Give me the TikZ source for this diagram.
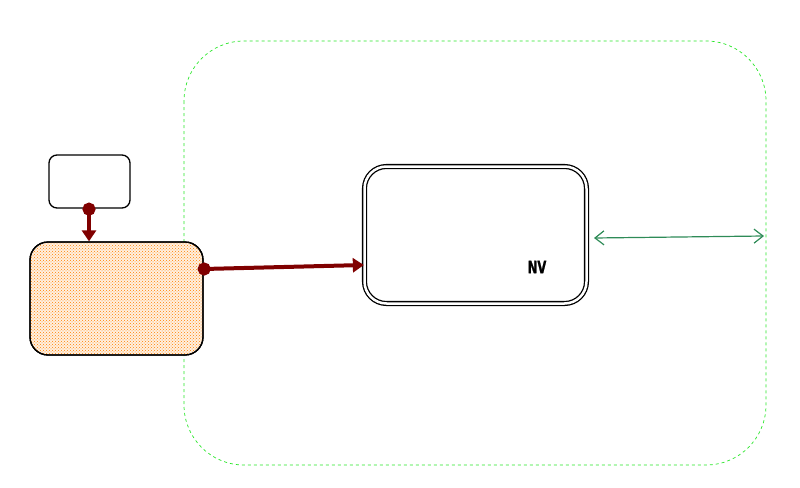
\documentclass[tikz,border=0pt]{standalone}
\usepackage{fontspec}
\setsansfont{DejaVu Sans}
\newfontfamily\nvfont{DejaVu Sans}[BoldFeatures={FakeBold=1.5}]
\usetikzlibrary{patterns,arrows.meta}
\definecolor{dred}{RGB}{128,0,0}
\definecolor{sgreen}{RGB}{46,139,87}
\definecolor{lgreen}{RGB}{40,230,40}
\tikzset{
  box/.style={draw=black,line width=1.3pt,rounded corners=#1},
  redarrow/.style={draw=dred,line width=4pt,shorten <=-6pt,{Circle[length=13pt]}-{Triangle[length=11pt,width=14pt]}},
}
\begin{document}
\begin{tikzpicture}[x=1pt,y=-1pt]
\useasboundingbox (0,0) rectangle (800,487);
% container
\draw[lgreen,dashed,line width=0.7pt,rounded corners=60pt] (184,41) rectangle (766,465);
\coordinate (cR) at (764,236);
% small box
\node[box=8pt,minimum width=81pt,minimum height=53pt,inner sep=0pt] (small) at (89.5,181.5) {};
% orange box
\fill[orange!12,rounded corners=18pt] (30,242) rectangle (203,355);
\node[box=18pt,minimum width=173pt,minimum height=113pt,inner sep=0pt,
      pattern=crosshatch dots,pattern color=orange] (orange) at (116.5,298.5) {};
\node[box=18pt,minimum width=173pt,minimum height=113pt,inner sep=0pt] at (116.5,298.5) {};
% NV box
\node[draw=black,double,double distance=2.5pt,line width=1.3pt,rounded corners=22pt,
      minimum width=222pt,minimum height=137pt,inner sep=0pt] (nv) at (475.5,235) {};
\node[font=\nvfont\bfseries\fontsize{17}{17}\selectfont,xscale=0.68] (nvt) at (537,267) {NV};
% arrows
\draw[redarrow] (small.south -| 89,0) -- (orange.north -| 89,0);
\draw[redarrow] (orange.east |- 0,269) -- (nv.west |- 0,265);
\draw[sgreen,line width=1.2pt,{Straight Barb[length=9pt,width=14pt]}-{Straight Barb[length=9pt,width=14pt]}]
  (594,238) -- (cR);
\end{tikzpicture}
\end{document}
